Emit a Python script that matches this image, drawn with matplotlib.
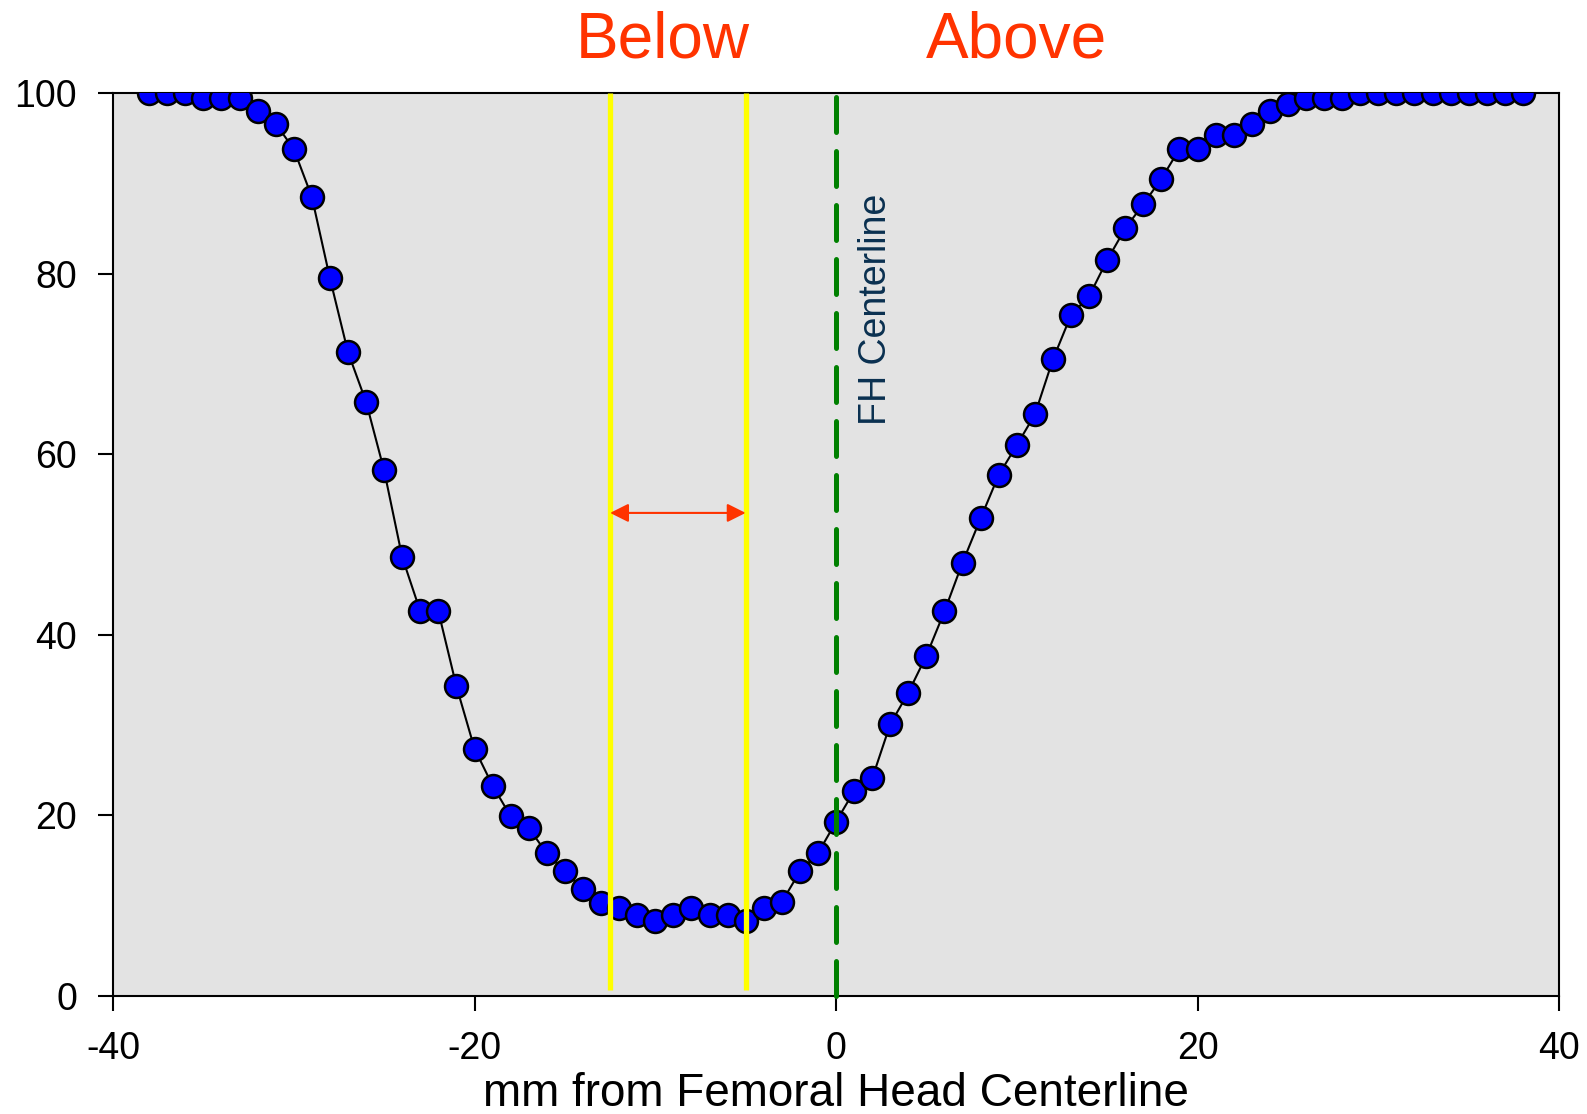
import matplotlib.pyplot as plt

# data
mm_from_center = list(range(-38, 39))
percent = [
    100, 100, 100, 99.4, 99.4, 99.4, 98.0, 96.6, 93.8, 88.5,
    79.5, 71.3, 65.8, 58.2, 48.6, 42.6, 42.6, 34.3, 27.4, 23.3,
    19.9, 18.6, 15.8, 13.8, 11.8, 10.3, 9.7, 9.0, 8.3, 9.0,
    9.7, 9.0, 9.0, 8.3, 9.7, 10.4, 13.8, 15.8, 19.3, 22.7,
    24.1, 30.1, 33.6, 37.7, 42.6, 48.0, 52.9, 57.7, 61.0, 64.4,
    70.5, 75.4, 77.5, 81.5, 85.0, 87.7, 90.5, 93.8, 93.8, 95.3,
    95.3, 96.6, 98.0, 98.8, 99.4, 99.4, 99.4, 100, 100, 100,
    100, 100, 100, 100, 100, 100, 100,
]
band_edges = [-12.5, -5.0]
arrow_level = 53.5
centerline = 0.0

plt.rcParams['font.family'] = ['Liberation Sans', 'DejaVu Sans']
plt.rcParams['axes.unicode_minus'] = False

fig = plt.figure(figsize=(15.87, 11.14), dpi=100)
ax = fig.add_axes([0.0712, 0.1059, 0.9112, 0.8106])
ax.set_facecolor('#e3e3e3')

# data curve
ax.plot(mm_from_center, percent, color='black', linewidth=1.5, zorder=2)
ax.plot(mm_from_center, percent, linestyle='none', marker='o', markersize=16.5,
        markerfacecolor='#0000ff', markeredgecolor='black', markeredgewidth=1.8,
        zorder=3)

# yellow band edges
for xb in band_edges:
    ax.plot([xb, xb], [0.7, 100], color='#ffff00', linewidth=3.8, zorder=4,
            solid_capstyle='butt')

# double arrow between the band edges
ax.annotate('', xy=(band_edges[0], arrow_level), xytext=(band_edges[1], arrow_level),
            arrowprops=dict(arrowstyle='<|-|>', color='#ff3300', lw=1.5,
                            mutation_scale=28, shrinkA=0, shrinkB=0),
            zorder=5)

# femoral head centerline
ax.plot([centerline, centerline], [0, 100], color='#008000', linewidth=3.6,
        dashes=(7.0, 3.8), dash_capstyle='round', zorder=5, clip_on=False)
ax.text(2.2, 76, 'FH Centerline', rotation=90, ha='center', va='center',
        fontsize=27, color='#0a3050', zorder=6)

# labels above the plot
ax.text(-9.6, 103.9, 'Below', ha='center', va='baseline', fontsize=46, color='#ff3300')
ax.text(10.0, 103.9, 'Above', ha='center', va='baseline', fontsize=46, color='#ff3300')

ax.set_xlim(-40, 40)
ax.set_ylim(0, 100)
ax.set_xticks([-40, -20, 0, 20, 40])
ax.set_yticks([0, 20, 40, 60, 80, 100])
ax.tick_params(axis='both', direction='out', length=11, width=1.5, labelsize=27,
               colors='black')
ax.tick_params(axis='y', pad=15)
ax.tick_params(axis='x', pad=14)
for sp in ax.spines.values():
    sp.set_linewidth(1.5)
    sp.set_color('black')

ax.set_xlabel('mm from Femoral Head Centerline', fontsize=33, labelpad=4)

fig.savefig('out.png', dpi=100)
